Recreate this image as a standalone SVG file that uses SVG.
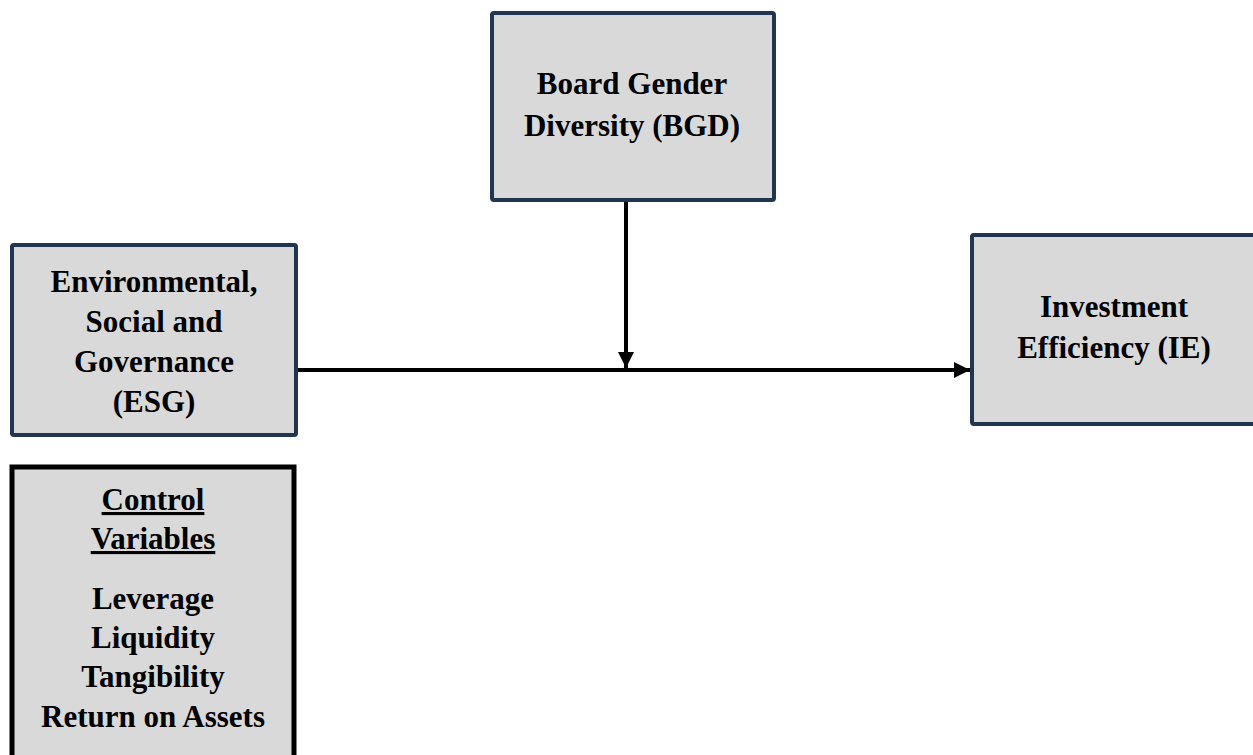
<svg xmlns="http://www.w3.org/2000/svg" width="1253" height="755" viewBox="0 0 1253 755">
<defs>
<style>
.box{fill:#d9d9d9;stroke:#1f3550;stroke-width:4;}
.cbox{fill:#d9d9d9;stroke:#000;stroke-width:5;}
.t{font-family:"Liberation Serif","Times New Roman",serif;font-weight:bold;font-size:31px;fill:#000;text-anchor:middle;}
.u{text-decoration:underline;}
.edge{stroke:#000;stroke-width:4;fill:none;}
</style>
<marker id="ah" markerUnits="userSpaceOnUse" markerWidth="18" markerHeight="18" refX="16" refY="8" orient="auto">
<path d="M0,0 L16,8 L0,16 Z" fill="#000"/>
</marker>
</defs>
<rect width="1253" height="755" fill="#fff"/>
<g id="connectors">
<line class="edge" x1="297" y1="370" x2="970" y2="370" marker-end="url(#ah)"/>
<line class="edge" x1="626" y1="202" x2="626" y2="368" marker-end="url(#ah)"/>
</g>
<g id="bgd">
<rect class="box" x="492" y="13" width="282" height="187" rx="2"/>
<text class="t" x="632" y="94">Board Gender</text>
<text class="t" x="632" y="136">Diversity (BGD)</text>
</g>
<g id="esg">
<rect class="box" x="12" y="245" width="284" height="190" rx="2"/>
<text class="t" x="154" y="292">Environmental,</text>
<text class="t" x="154" y="332">Social and</text>
<text class="t" x="154" y="372">Governance</text>
<text class="t" x="154" y="412">(ESG)</text>
</g>
<g id="ie">
<rect class="box" x="972" y="235" width="290" height="189" rx="2"/>
<text class="t" x="1114" y="317">Investment</text>
<text class="t" x="1114" y="358">Efficiency (IE)</text>
</g>
<g id="controls">
<rect class="cbox" x="12" y="467" width="282" height="300"/>
<text class="t u" x="153" y="510">Control</text>
<text class="t u" x="153" y="549">Variables</text>
<text class="t" x="153" y="609">Leverage</text>
<text class="t" x="153" y="648">Liquidity</text>
<text class="t" x="153" y="687">Tangibility</text>
<text class="t" x="153" y="727">Return on Assets</text>
</g>
</svg>
